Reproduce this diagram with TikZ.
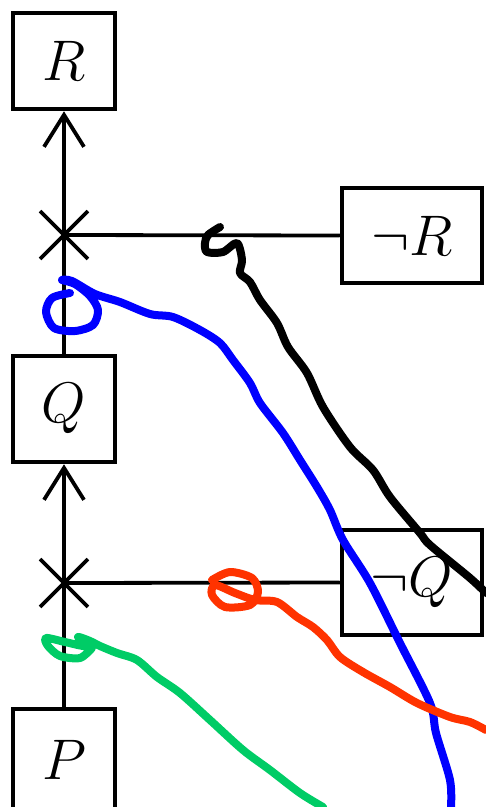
\documentclass[tikz,border=0pt]{standalone}
\usetikzlibrary{arrows.meta,shapes.misc}
\definecolor{penblue}{RGB}{0,0,255}
\definecolor{penred}{RGB}{255,51,0}
\definecolor{pengreen}{RGB}{0,204,102}
\newcommand{\bigsym}[1]{\scalebox{2.3}{\Huge$#1$}}
\tikzset{
  box/.style={draw, line width=4.5pt, fill=white, inner sep=0pt},
  conn/.style={line width=3.8pt},
  xmark/.style={cross out, draw, line width=3.8pt, minimum size=44pt, inner sep=0pt},
  tip/.style={-{Straight Barb[length=32pt,width=40pt]}},
  pen/.style={line width=8pt, line cap=round, line join=round},
}
\begin{document}
\begin{tikzpicture}[x=1pt,y=-1pt]
\useasboundingbox (0,0) rectangle (486,807);
\node[box, minimum width=102pt, minimum height=96pt] (R) at (64,61) {\bigsym{R}};
\node[box, minimum width=102pt, minimum height=106pt] (Q) at (64,409) {\bigsym{Q}};
\node[box, minimum width=102pt, minimum height=102pt] (P) at (64,760) {\bigsym{P}};
\node[box, minimum width=140pt, minimum height=95pt] (nR) at (412,235.5) {\bigsym{\neg R}};
\node[box, minimum width=140pt, minimum height=105pt] (nQ) at (412,582.5) {\bigsym{\neg Q}};
\node[xmark] (c1) at (64,235) {};
\node[xmark] (c2) at (64,583) {};
\draw[conn] (nR.west) -- (c1.center);
\draw[conn] (nQ.west) -- (c2.center);
\draw[conn] (Q.north) -- (c1.center);
\draw[conn] (P.north) -- (c2.center);
\draw[conn,tip] (c1.center) -- (R.south);
\draw[conn,tip] (c2.center) -- (Q.south);
% freehand strokes
\draw[pen, black] plot[smooth, tension=0.5] coordinates {
 (220,227) (208,235) (205,243) (207,252) (223,252) (237,243) (242,260) (240,273) (250,282) (260,300)
 (277,323) (288,347) (307,373) (323,407) (350,447) (373,470) (390,497) (420,533) (430,545) (470,578) (486,593)};
\draw[pen, penblue] plot[smooth, tension=0.5] coordinates {
 (70,293) (52,298) (46,312) (54,328) (75,331) (93,325) (98,310) (90,296) (75,284) (62,280) (72,281)
 (95,294) (120,302) (150,314) (173,317) (200,330) (220,343) (233,360) (250,383) (260,403) (283,433)
 (300,460) (317,487) (330,510) (343,540) (370,583) (400,643) (430,703) (436,733) (450,780) (451,807)};
\draw[pen, penred] plot[smooth, tension=0.5] coordinates {
 (212,580) (230,572) (252,578) (258,592) (250,605) (225,607) (212,595) (215,585) (235,593) (255,600)
 (277,602) (297,617) (313,627) (327,640) (340,657) (363,672) (390,687) (417,703) (450,717) (470,722) (486,730)};
\draw[pen, pengreen] plot[smooth, tension=0.5] coordinates {
 (92,648) (80,658) (60,656) (48,646) (46,638) (65,642) (85,646) (78,637) (90,641) (100,646)
 (117,653) (137,660) (157,677) (180,693) (210,720) (243,750) (270,770) (300,793) (323,807)};
\end{tikzpicture}
\end{document}
